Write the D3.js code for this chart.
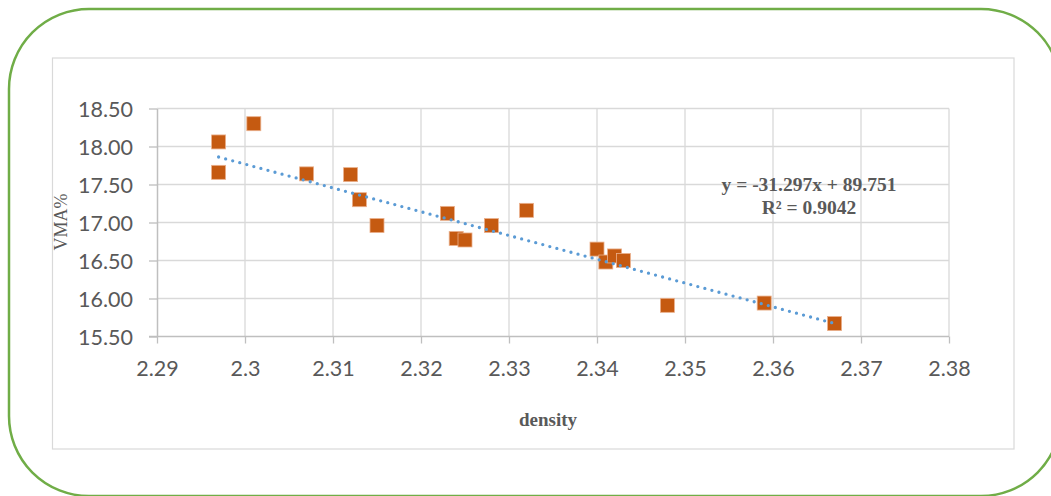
<!DOCTYPE html>
<html>
<head>
<meta charset="utf-8">
<script src="https://cdn.jsdelivr.net/npm/d3@7"></script>
<style>
  html, body { margin: 0; padding: 0; background: #fff; }
  svg { display: block; }
</style>
</head>
<body>
<svg id="chart" width="1051" height="496"></svg>
<script>
// Measured samples: density vs VMA%
const density = [2.297, 2.297, 2.301, 2.307, 2.312, 2.313, 2.315, 2.323, 2.324, 2.325,
                 2.328, 2.332, 2.340, 2.341, 2.342, 2.343, 2.348, 2.359, 2.367];
const vma     = [18.06, 17.66, 18.30, 17.64, 17.63, 17.30, 16.96, 17.12, 16.79, 16.77,
                 16.96, 17.16, 16.65, 16.48, 16.56, 16.50, 15.91, 15.94, 15.67];

// Linear trend coefficients
const slope = -31.297;
const intercept = 89.751;
const r2 = 0.9042;

const xTicks = [2.29, 2.30, 2.31, 2.32, 2.33, 2.34, 2.35, 2.36, 2.37, 2.38];
const xTickLabels = ["2.29", "2.3", "2.31", "2.32", "2.33", "2.34", "2.35", "2.36", "2.37", "2.38"];
const yTicks = [15.5, 16.0, 16.5, 17.0, 17.5, 18.0, 18.5];

const svg = d3.select("#chart");

// outer rounded frame
svg.append("rect")
  .attr("x", 9).attr("y", 9)
  .attr("width", 1052).attr("height", 487)
  .attr("rx", 80).attr("ry", 80)
  .attr("fill", "#fff")
  .attr("stroke", "#70AD47")
  .attr("stroke-width", 2.5);

// chart area border
svg.append("rect")
  .attr("x", 52.5).attr("y", 58)
  .attr("width", 961.5).attr("height", 391)
  .attr("fill", "none")
  .attr("stroke", "#d9d9d9")
  .attr("stroke-width", 1.2);

const x = d3.scaleLinear().domain([2.29, 2.38]).range([157, 949]);
const y = d3.scaleLinear().domain([15.5, 18.5]).range([336.5, 108.5]);

const grid = svg.append("g");
// vertical gridlines
grid.selectAll("line.v").data(xTicks.slice(1)).join("line")
  .attr("x1", d => x(d)).attr("x2", d => x(d))
  .attr("y1", y(18.5)).attr("y2", y(15.5))
  .attr("stroke", "#d9d9d9").attr("stroke-width", 1.3);
// horizontal gridlines
grid.selectAll("line.h").data(yTicks.slice(1)).join("line")
  .attr("x1", x(2.29)).attr("x2", x(2.38))
  .attr("y1", d => y(d)).attr("y2", d => y(d))
  .attr("stroke", "#d9d9d9").attr("stroke-width", 1.3);

// x axis
const xAxis = svg.append("g")
  .attr("transform", `translate(0,${y(15.5)})`)
  .call(d3.axisBottom(x).tickValues(xTicks).tickSize(7).tickSizeOuter(0)
        .tickFormat((d, i) => xTickLabels[i]));
xAxis.select(".domain").attr("stroke", "#bfbfbf").attr("stroke-width", 1.5)
  .attr("d", `M${x(2.29) - 8},0H${x(2.38)}`);
xAxis.selectAll(".tick line").attr("stroke", "#bfbfbf").attr("stroke-width", 1.3);
xAxis.selectAll(".tick text")
  .attr("y", 32).attr("dy", "0.35em")
  .attr("fill", "#595959")
  .style("font-family", "Lato, 'Open Sans', sans-serif")
  .style("font-size", "21.5px");

// y axis
const yAxis = svg.append("g")
  .attr("transform", `translate(${x(2.29)},0)`)
  .call(d3.axisLeft(y).tickValues(yTicks).tickSize(8).tickSizeOuter(0)
        .tickFormat(d3.format(".2f")));
yAxis.select(".domain").attr("stroke", "#bfbfbf").attr("stroke-width", 1.5);
yAxis.selectAll(".tick line").attr("stroke", "#bfbfbf").attr("stroke-width", 1.3);
yAxis.selectAll(".tick text")
  .attr("x", -24).attr("dy", "0.35em")
  .attr("fill", "#595959")
  .style("font-family", "Lato, 'Open Sans', sans-serif")
  .style("font-size", "21.5px");

// axis titles
svg.append("text")
  .attr("transform", `translate(67,222) rotate(-90)`)
  .attr("text-anchor", "middle")
  .attr("fill", "#595959")
  .style("font-family", "'Liberation Serif', 'Times New Roman', serif")
  .style("font-size", "18px")
  .text("VMA%");

svg.append("text")
  .attr("x", 548).attr("y", 426)
  .attr("text-anchor", "middle")
  .attr("fill", "#595959")
  .style("font-family", "'Liberation Serif', 'Times New Roman', serif")
  .style("font-weight", "bold")
  .style("font-size", "19px")
  .text("density");

// data markers
const pts = density.map((d, i) => ({ d, v: vma[i] }));
const s = 14;
svg.append("g").selectAll("rect").data(pts).join("rect")
  .attr("x", p => x(p.d) - s / 2)
  .attr("y", p => y(p.v) - s / 2)
  .attr("width", s).attr("height", s)
  .attr("fill", "#C55A11")
  .attr("stroke", "#eab08c")
  .attr("stroke-width", 0.8);

// dotted linear trendline across the data range
const xMin = d3.min(density), xMax = d3.max(density);
const trend = [xMin, xMax].map(d => [x(d), y(slope * d + intercept)]);
svg.append("path")
  .attr("d", d3.line()(trend))
  .attr("fill", "none")
  .attr("stroke", "#5B9BD5")
  .attr("stroke-width", 3.3)
  .attr("stroke-linecap", "round")
  .attr("stroke-dasharray", "0 7.3");

// trendline equation
const eq = svg.append("text")
  .attr("text-anchor", "middle")
  .attr("fill", "#595959")
  .style("font-family", "'Liberation Serif', 'Times New Roman', serif")
  .style("font-weight", "bold")
  .style("font-size", "19.5px");
eq.append("tspan").attr("x", 809).attr("y", 191)
  .text(`y = ${slope}x + ${intercept}`);
eq.append("tspan").attr("x", 809).attr("y", 214)
  .text(`R² = ${r2}`);
</script>
</body>
</html>
